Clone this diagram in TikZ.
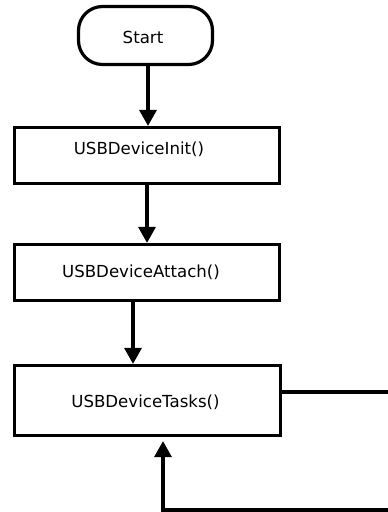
\documentclass[tikz,border=0pt]{standalone}
\usepackage{fontspec}
\setmainfont{DejaVu Sans}
\usetikzlibrary{arrows.meta}
\newcommand{\shifted}[3]{\hspace*{#1}\raisebox{#2}[\height][\depth]{#3}}
\begin{document}
\begin{tikzpicture}[x=1pt,y=-1pt,
  every node/.style={font=\fontsize{16.6}{19}\selectfont},
  box/.style={draw,line width=3.2pt,inner sep=0pt,minimum width=265pt},
  term/.style={draw,line width=3.2pt,rounded corners=24pt,inner sep=0pt,minimum width=134pt,minimum height=58pt},
  conn/.style={line width=3.2pt,-{Triangle[width=17pt,length=16pt]}}]
\useasboundingbox (0,0) rectangle (388,512);
\node[term] (start) at (145.5,35.5) {\shifted{-5pt}{-2pt}{Start}};
\node[box,minimum height=56pt] (b1) at (147,155.5) {\shifted{-16pt}{6pt}{USBDeviceInit()}};
\node[box,minimum height=56pt] (b2) at (147,272.5) {\shifted{-12pt}{0pt}{USBDeviceAttach()}};
\node[box,minimum width=266pt,minimum height=70pt] (b3) at (147.5,400.5) {\shifted{-4pt}{-2pt}{USBDeviceTasks()}};
\coordinate (x1) at (148,0);
\coordinate (x2) at (147,0);
\coordinate (x3) at (133,0);
\coordinate (r1) at (400,392);
\coordinate (r2) at (400,510);
\coordinate (lb) at (163,510);
\draw[conn] (start.south -| x1) -- (b1.north -| x1);
\draw[conn] (b1.south -| x2) -- (b2.north -| x2);
\draw[conn] (b2.south -| x3) -- (b3.north -| x3);
\draw[conn,shorten >=4pt] (b3.east |- r1) -- (r1) -- (r2) -- (lb) -- (b3.south -| lb);
\end{tikzpicture}
\end{document}
